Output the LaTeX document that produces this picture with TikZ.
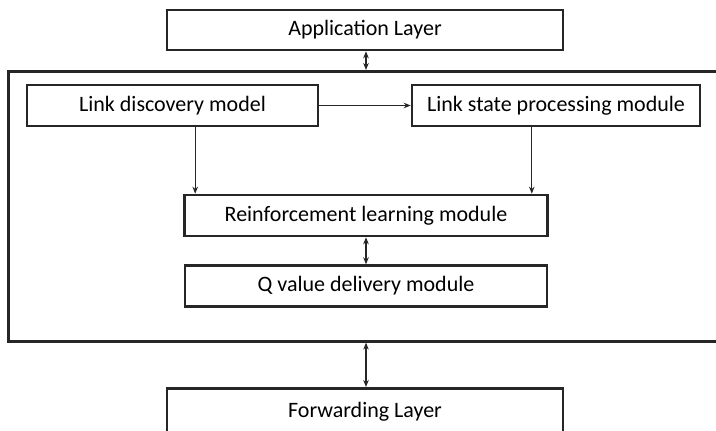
\documentclass[tikz,border=0pt]{standalone}
\usepackage{fontspec}
\setmainfont{Carlito}
\usepackage{tikz}
\usetikzlibrary{arrows.meta, positioning, calc}

\begin{document}
\begin{tikzpicture}[x=1pt, y=-1pt, >={Stealth[length=7pt, width=5.5pt]},
  layer/.style={rectangle, draw=black!85, line width=2.6pt, minimum width=396pt, minimum height=40pt, font=\fontsize{22}{26}\selectfont},
  module/.style={rectangle, draw=black!85, line width=2.6pt, minimum height=41pt, font=\fontsize{22}{26}\selectfont},
  link/.style={line width=1.3pt, black!85}]

  \useasboundingbox (0,0) rectangle (716,431);
  \clip (0,0) rectangle (716,431);
  \fill[white] (0,0) rectangle (716,431);

  % layers
  \node [layer] (app) at (365,30) {Application Layer};
  \node [layer, minimum height=46pt, anchor=north] (fwd) at (365,387) {Forwarding Layer};

  % control plane frame
  \node [rectangle, draw=black!85, line width=2.6pt, minimum width=730pt, minimum height=270pt, anchor=north west] (ctrl) at (7,70) {};

  % modules
  \node [module, minimum width=291pt] (ld) at (172.5,105.5) {Link discovery model};
  \node [module, minimum width=288pt] (ls) at (556,105.5) {Link state processing module};
  \node [module, minimum width=363pt] (rl) at (366,215.5) {Reinforcement learning module};
  \node [module, minimum width=362pt, below=27pt of rl] (qv) {Q value delivery module};

  % connectors
  \draw[<->, link] (app.south -| rl.north) -- (rl.north |- ctrl.north);
  \draw[->, link] (ld) -- (ls);
  \draw[->, link] ([xshift=12pt]rl.north west |- ld.south) -- ([xshift=12pt]rl.north west);
  \draw[->, link] ([xshift=-17pt]rl.north east |- ls.south) -- ([xshift=-17pt]rl.north east);
  \draw[<->, link] (rl) -- (qv);
  \draw[<->, link] (qv.south |- ctrl.south) -- (qv.south |- fwd.north);
\end{tikzpicture}
\end{document}
